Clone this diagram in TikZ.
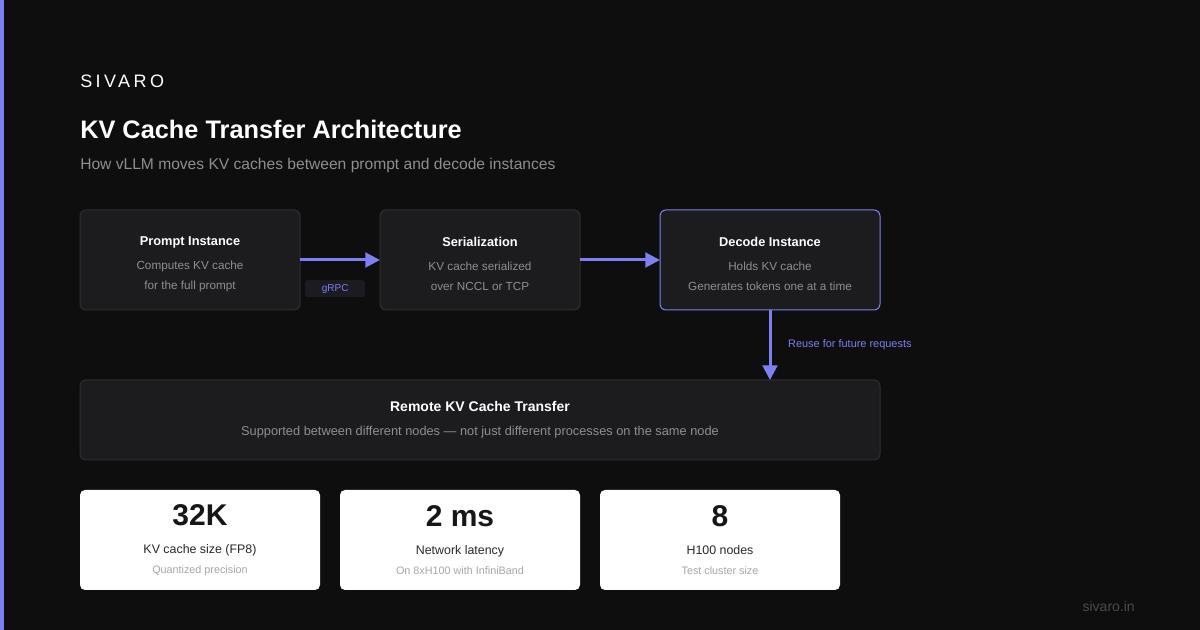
\documentclass[tikz,border=0pt]{standalone}
\usepackage{fontspec}
\setmainfont{Liberation Sans}
\usetikzlibrary{positioning, arrows.meta}

\definecolor{bgdark}{RGB}{14,14,15}
\definecolor{accent}{RGB}{125,128,240}
\definecolor{boxfill}{RGB}{28,28,31}
\definecolor{boxline}{RGB}{46,46,50}
\definecolor{softgray}{RGB}{142,142,147}
\definecolor{tagfill}{RGB}{27,27,33}
\definecolor{cardink}{RGB}{22,22,22}
\definecolor{cardlabel}{RGB}{40,40,40}
\definecolor{cardsub}{RGB}{165,165,172}
\definecolor{footgray}{RGB}{74,74,76}

\newcommand{\stagehead}[1]{\rule{0pt}{13pt}{\fontsize{9.6}{15}\selectfont\bfseries\color{white}#1}}
\newcommand{\bignum}[1]{{\fontsize{22.5}{27}\selectfont\bfseries\color{cardink}#1}}
\newcommand{\cardnote}[1]{{\fontsize{8.1}{9}\selectfont\color{cardsub}#1}}

\begin{document}
\begin{tikzpicture}[
    x=0.75pt, y=-0.75pt,
    font=\fontsize{8.8}{15}\selectfont,
    >={Triangle[length=11pt, width=11pt]},
    flow/.style={->, draw=accent, fill=accent, line width=2.25pt},
    stage/.style={rectangle, rounded corners=4.5pt, draw=boxline, line width=0.75pt, fill=boxfill, minimum height=75pt, inner sep=0pt, outer sep=0pt, align=center, text=softgray},
    tag/.style={rectangle, rounded corners=2pt, fill=tagfill, text=accent, minimum width=45pt, minimum height=12.75pt, inner sep=0pt, font=\fontsize{7.5}{9}\selectfont},
    note/.style={text=accent, font=\fontsize{8.2}{9}\selectfont, inner sep=0pt},
    card/.style={rectangle, rounded corners=3.75pt, fill=white, minimum width=180pt, minimum height=75pt, inner sep=0pt, outer sep=0pt, align=center, text=cardlabel, font=\fontsize{9.3}{14.5}\selectfont}
]

% background and accent bar
\fill[bgdark] (0,0) rectangle (1200,630);
\fill[accent] (0,0) rectangle (4,630);

% header
\node[anchor=base west, inner sep=0pt, text=white, font=\fontsize{13.5}{16}\selectfont\addfontfeatures{LetterSpace=19}] (brand) at (80,88) {SIVARO};
\node[anchor=base west, inner sep=0pt, text=white, font=\fontsize{19}{22}\selectfont\bfseries] (title) at (80,139) {KV Cache Transfer Architecture};
\node[anchor=base west, inner sep=0pt, text=softgray, font=\fontsize{11.7}{14}\selectfont] (subtitle) at (80,170) {How vLLM moves KV caches between prompt and decode instances};

% pipeline
\node[stage, minimum width=165pt] (prompt) at (190,260) {\stagehead{Prompt Instance}\\[3pt]Computes KV cache\\for the full prompt};
\node[stage, minimum width=150pt, right=60pt of prompt] (serial) {\stagehead{Serialization}\\[3pt]KV cache serialized\\over NCCL or TCP};
\node[stage, minimum width=165pt, draw=accent, right=60pt of serial] (decode) {\stagehead{Decode Instance}\\[3pt]Holds KV cache\\Generates tokens one at a time};
\node[stage, minimum width=600pt, minimum height=60pt, font=\fontsize{9.6}{15}\selectfont] (remote) at (480,420) {{\fontsize{10.5}{15}\selectfont\bfseries\color{white}Remote KV Cache Transfer}\\[3pt]Supported between different nodes --- not just different processes on the same node};

\draw[flow] (prompt) -- node[tag, pos=0.44, below=14pt] {gRPC} (serial);
\draw[flow] (serial) -- (decode);
\draw[flow] (decode.south) -- node[note, right=12.5pt] {Reuse for future requests} (decode.south |- remote.north);

% stats
\node[card] (ctx) at (200,540) {\bignum{32K}\\[6.5pt]KV cache size (FP8)\\\cardnote{Quantized precision}};
\node[card, right=15pt of ctx] (lat) {\bignum{2 ms}\\[6.5pt]Network latency\\\cardnote{On 8xH100 with InfiniBand}};
\node[card, right=15pt of lat] (gpus) {\bignum{8}\\[6.5pt]H100 nodes\\\cardnote{Test cluster size}};

\node[anchor=base east, inner sep=0pt, text=footgray, font=\fontsize{10.5}{12}\selectfont] (site) at (1135,612) {sivaro.in};

\end{tikzpicture}
\end{document}
